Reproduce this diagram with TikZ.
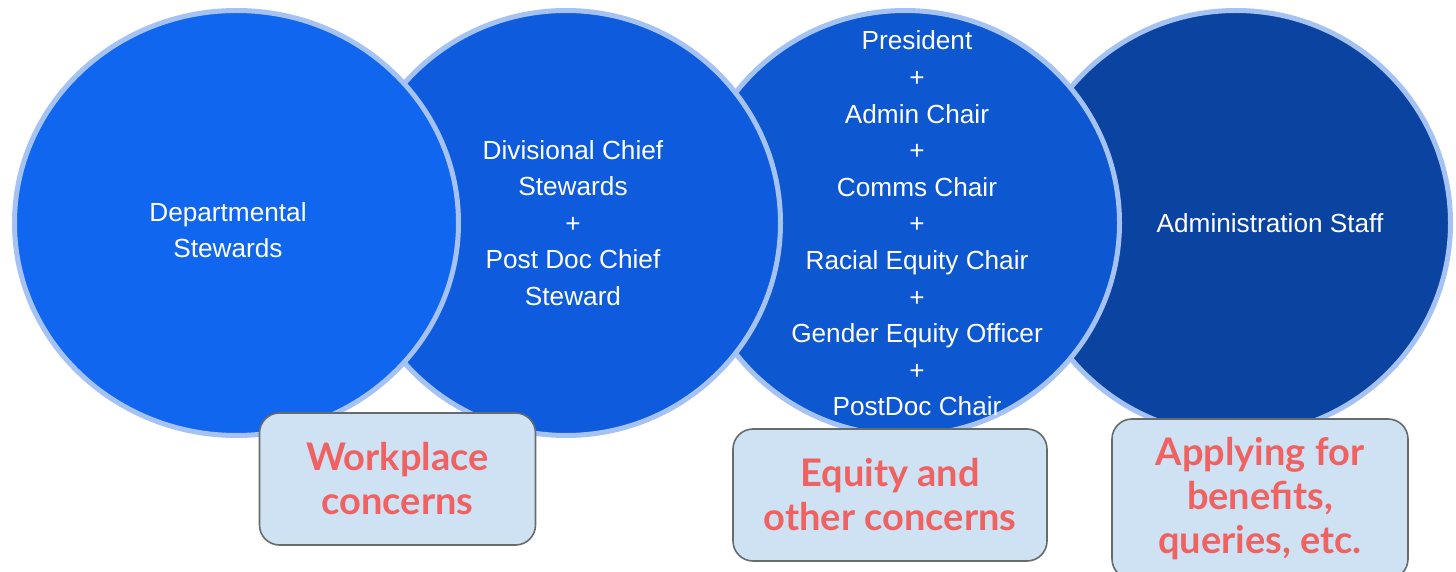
\documentclass[tikz,border=0pt]{standalone}
\usepackage{fontspec}
\usepackage{xcolor}
\usepackage{tikz}
\usetikzlibrary{shapes.geometric}

\newfontfamily\circfont{Liberation Sans}
\newfontfamily\boxfont{Lato}

\definecolor{ring}{HTML}{A4C2F4}
\definecolor{blueA}{HTML}{1066EE}
\definecolor{blueB}{HTML}{0E5CDD}
\definecolor{blueC}{HTML}{0D57D0}
\definecolor{blueD}{HTML}{0B43A0}
\definecolor{boxfill}{HTML}{CFE2F3}
\definecolor{boxline}{HTML}{666B6B}
\definecolor{boxred}{HTML}{F06262}

\begin{document}
\begin{tikzpicture}[x=0.5pt, y=-0.5pt,
  circ/.style={ellipse, draw=ring, line width=2.5pt, inner sep=0pt, outer sep=0pt,
    minimum width=214.5pt, minimum height=212.5pt},
  circtext/.style={text=white, align=center, inner sep=0pt,
    font=\circfont\fontsize{13.1}{18.3}\selectfont},
  concern/.style={rectangle, rounded corners=10pt, draw=boxline, line width=0.8pt,
    fill=boxfill, text=boxred, align=center, inner sep=0pt,
    font=\boxfont\bfseries\fontsize{19}{22}\selectfont}]
\useasboundingbox (0,0) rectangle (1456,572);
\clip (0,0) rectangle (1456,572);
% circles, right one first so the left one sits on top
\node [circ, fill=blueD] (admin) at (1236,223) {};
\node [circ, fill=blueC] (exec) at (905,223) {};
\node [circ, fill=blueB] (chief) at (566,223) {};
\node [circ, fill=blueA, minimum width=222pt] (dept) at (236.5,223) {};
% circle texts
\node [circtext] (deptT) at (228,230) {Departmental\\Stewards};
\node [circtext] (chiefT) at (573,223) {Divisional Chief\\Stewards\\+\\Post Doc Chief\\Steward};
\node [circtext] (execT) at (917,223.5) {President\\+\\Admin Chair\\+\\Comms Chair\\+\\Racial Equity Chair\\+\\Gender Equity Officer\\+\\PostDoc Chair};
\node [circtext] (adminT) at (1270,223) {Administration Staff};
% concern boxes
\node [concern, minimum width=138pt, minimum height=66pt] (work) at (397.5,479) {Workplace\\concerns};
\node [concern, minimum width=157pt, minimum height=66pt] (equity) at (890,495) {Equity and\\other concerns};
\node [concern, minimum width=148pt, minimum height=80pt] (benefit) at (1260,499) {Applying for\\benefits,\\queries, etc.};
\end{tikzpicture}
\end{document}
